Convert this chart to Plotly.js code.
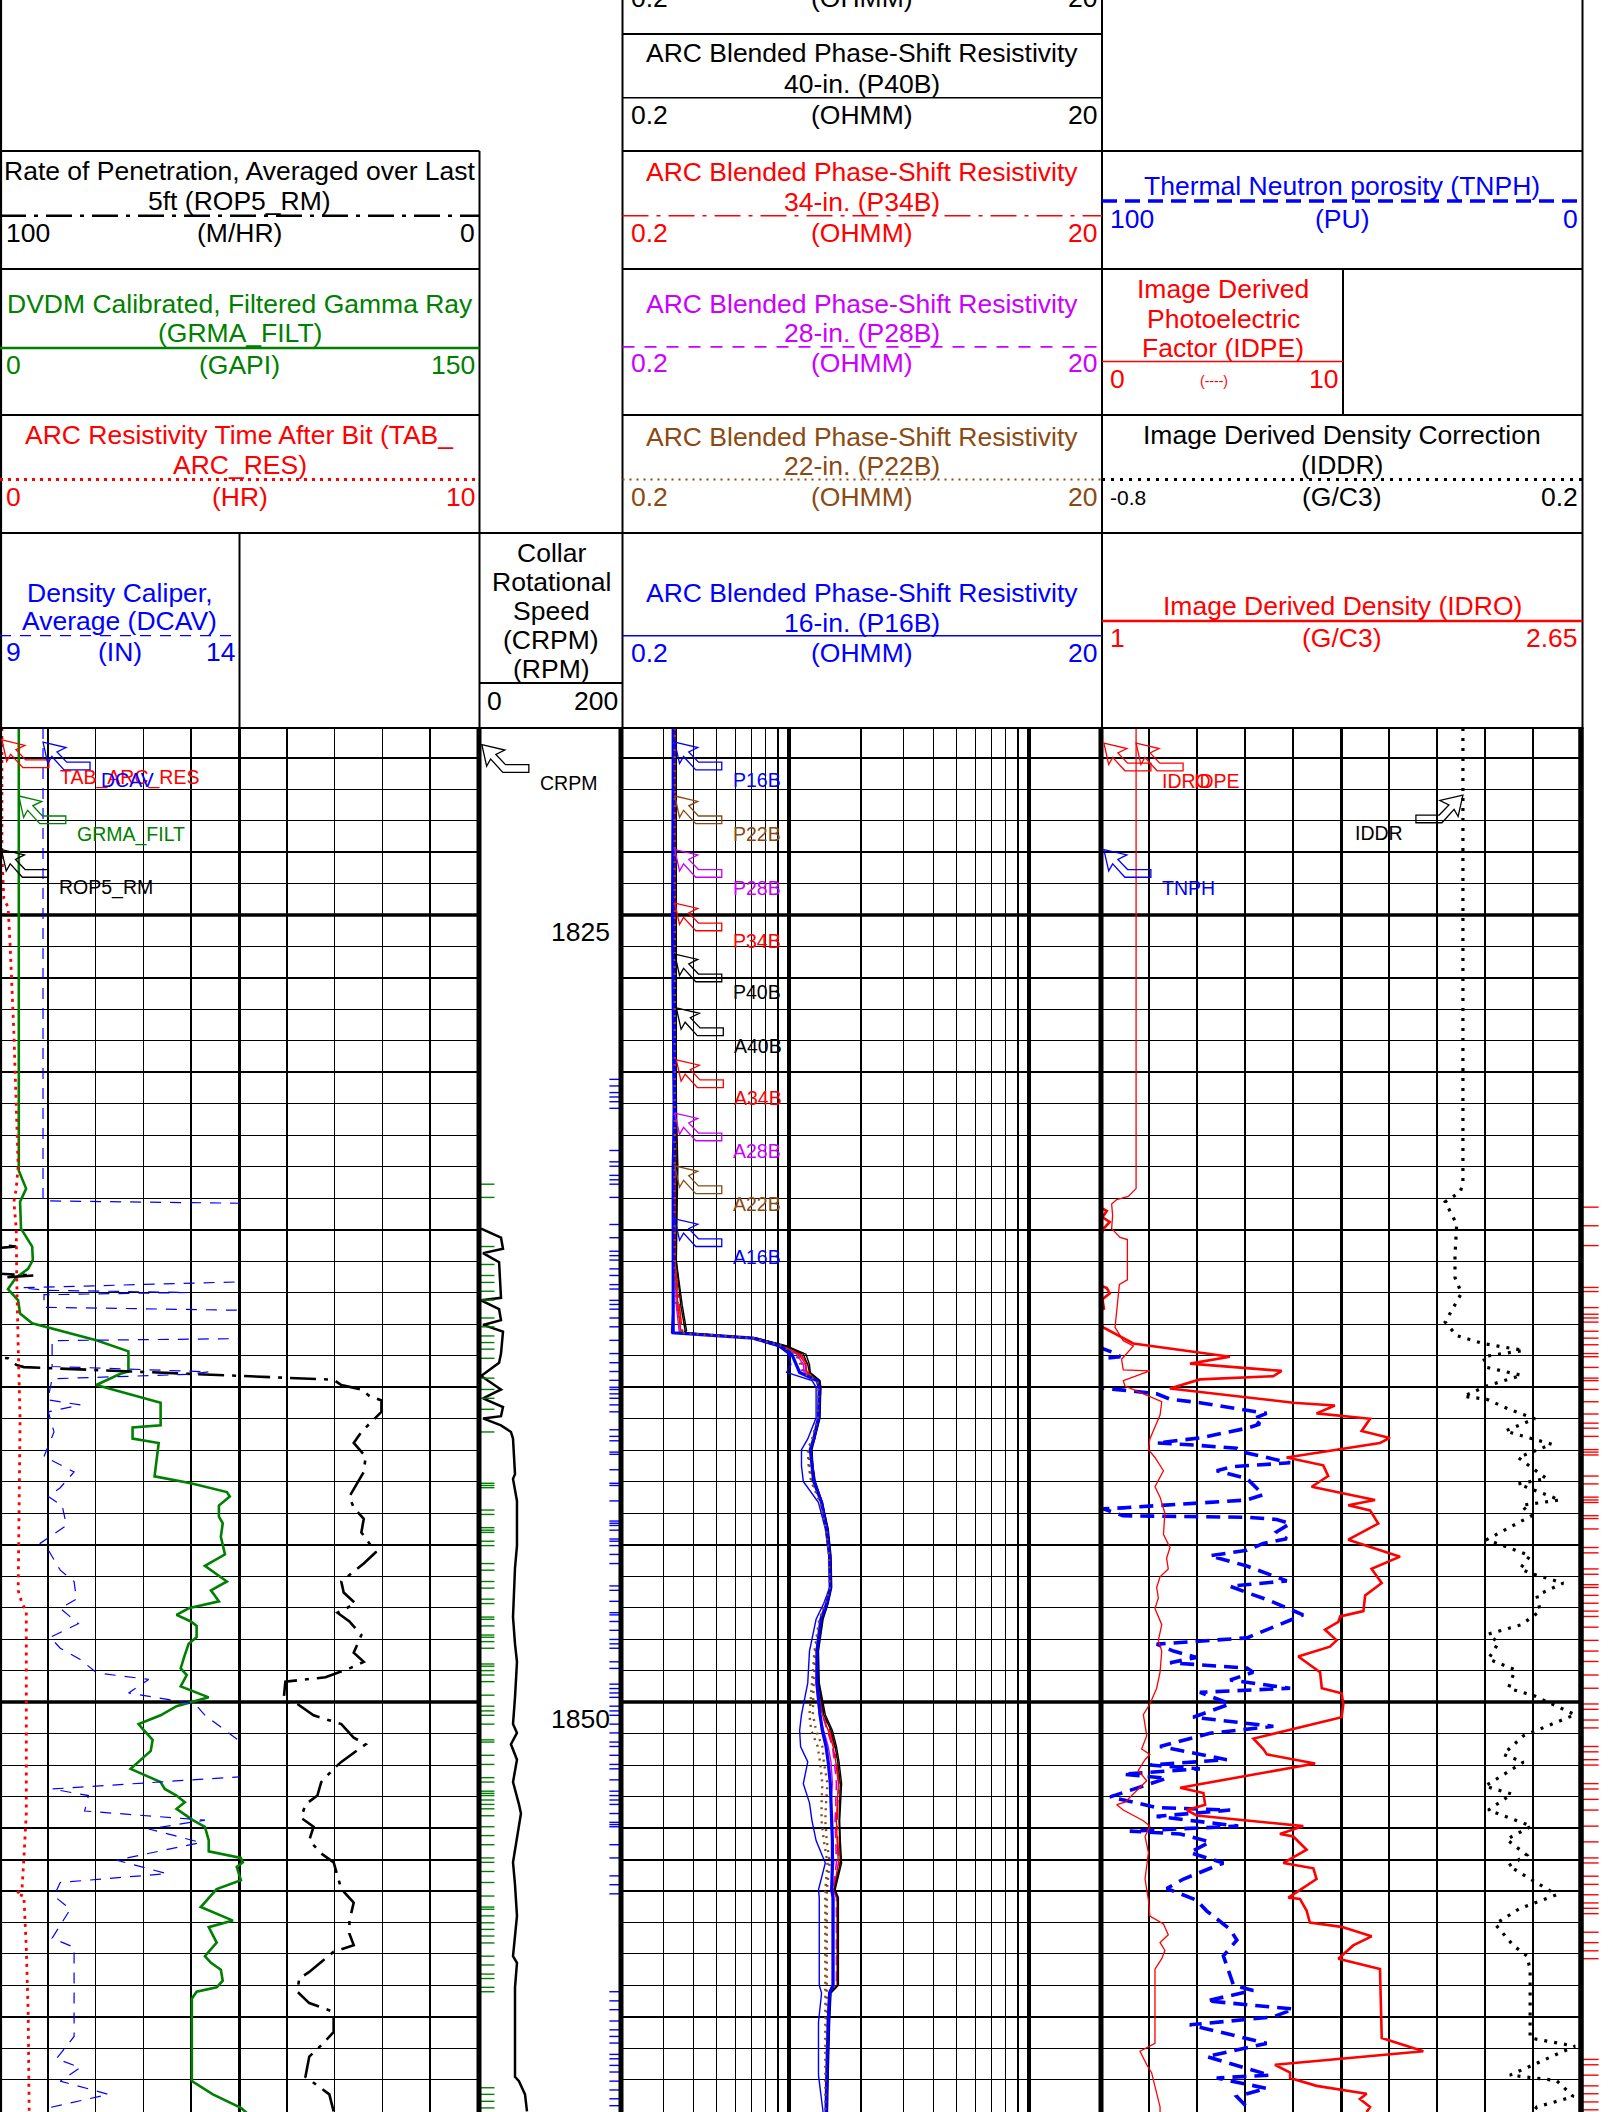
<!DOCTYPE html>
<html>
<head>
<meta charset="utf-8">
<script src="https://cdn.plot.ly/plotly-3.0.1.min.js"></script>
<style>
  html, body { margin:0; padding:0; background:#ffffff; }
  #log { width:1608px; height:2112px; }
</style>
</head>
<body>
<div id="log"></div>
<script>
// Track 1 : Gamma ray (GAPI, 0-150)
const grmaDepth = [1819.06, 1833.12, 1833.69, 1834.11, 1834.96, 1835.53, 1835.96, 1836.24, 1836.52, 1836.88, 1837.24, 1837.66, 1837.97, 1838.51, 1838.86, 1839.5, 1839.57, 1839.93, 1840.49, 1841.21, 1841.28, 1841.63, 1841.77, 1842.83, 1843.05, 1843.33, 1843.47, 1843.76, 1844.11, 1844.32, 1844.75, 1845.31, 1845.67, 1846.17, 1846.45, 1846.8, 1847.02, 1847.23, 1847.44, 1847.58, 1847.94, 1848.15, 1848.5, 1848.93, 1849.14, 1849.5, 1849.85, 1850.13, 1850.42, 1850.7, 1850.84, 1851.2, 1851.55, 1851.83, 1852.12, 1852.54, 1852.76, 1852.97, 1853.18, 1853.39, 1853.75, 1853.96, 1854.39, 1854.74, 1854.95, 1855.09, 1855.24, 1855.66, 1855.94, 1856.51, 1856.94, 1857.15, 1857.64, 1858.07, 1858.28, 1858.5, 1858.85, 1859.06, 1859.2, 1859.42, 1862.04, 1862.46, 1862.89, 1863.1];
const grmaVal = [5.9, 5.9, 8.2, 6.3, 6.6, 10.1, 10.3, 8.8, 5.0, 2.5, 5.7, 6.3, 10.1, 30.2, 40.3, 40.3, 37.8, 30.2, 50.4, 50.4, 41.6, 41.6, 49.8, 48.5, 59.9, 71.2, 72.1, 68.7, 68.7, 69.9, 69.3, 70.6, 64.3, 71.2, 66.2, 68.7, 59.2, 55.4, 59.9, 61.7, 61.7, 59.2, 58.0, 56.7, 58.6, 56.7, 65.5, 55.4, 50.4, 43.5, 44.7, 47.9, 47.3, 44.1, 41.0, 50.4, 51.7, 55.4, 58.0, 55.4, 60.5, 64.3, 65.5, 65.5, 75.6, 76.2, 74.3, 75.6, 68.0, 63.0, 73.1, 65.5, 68.0, 64.3, 66.2, 69.3, 69.9, 68.0, 61.7, 60.2, 60.2, 66.8, 75.6, 78.0];

// Track 1 : Time after bit (HR, 0-10)
const tabDepth = [1819.06, 1823.06, 1824.48, 1824.76, 1825.9, 1828.73, 1831.56, 1832.98, 1833.69, 1834.11, 1834.96, 1836.52, 1838.65, 1841.03, 1846.45, 1846.87, 1847.09, 1853.54, 1854.95, 1855.94, 1856.09, 1856.16, 1857.79, 1859.91, 1863.0];
const tabVal = [0.04, 0.04, 0.08, 0.17, 0.21, 0.29, 0.35, 0.38, 0.34, 0.29, 0.34, 0.35, 0.38, 0.42, 0.38, 0.46, 0.55, 0.55, 0.5, 0.46, 0.34, 0.5, 0.55, 0.59, 0.61];

// Track 1 : Rate of penetration (M/HR, 100-0)
const ropDepth = [1819.06, 1835.4, 1835.53, 1835.65, 1836.35, 1836.45, 1836.58, 1839.0, 1839.08, 1839.29, 1839.36, 1839.76, 1839.93, 1840.07, 1840.28, 1840.42, 1840.78, 1841.42, 1841.77, 1842.2, 1842.69, 1843.47, 1843.83, 1844.18, 1844.61, 1845.24, 1845.6, 1846.17, 1846.52, 1846.87, 1847.16, 1847.44, 1847.87, 1848.43, 1848.72, 1848.93, 1849.21, 1849.35, 1849.99, 1850.06, 1850.42, 1850.7, 1851.13, 1851.34, 1851.9, 1852.12, 1852.54, 1852.97, 1853.25, 1853.68, 1853.96, 1854.39, 1854.81, 1855.09, 1855.52, 1855.94, 1856.37, 1856.94, 1857.36, 1857.72, 1857.93, 1858.57, 1858.78, 1859.2, 1859.56, 1859.84, 1860.48, 1860.9, 1861.26, 1861.9, 1862.46, 1863.0];
const ropVal = [106, 106, 96.6, 106, 106, 92.9, 106, 106, 98.3, 96.6, 95.0, 30.2, 28.6, 24.4, 22.7, 20.2, 20.2, 24.4, 26.0, 23.5, 23.9, 26.9, 26.0, 23.9, 24.4, 21.4, 23.9, 28.6, 28.1, 25.6, 29.4, 26.9, 24.4, 26.0, 23.9, 26.9, 31.9, 40.3, 40.7, 37.8, 34.4, 28.6, 26.0, 23.5, 28.6, 30.2, 32.8, 33.6, 36.1, 37.0, 34.4, 35.3, 32.8, 30.2, 29.4, 28.6, 26.0, 26.9, 26.9, 26.0, 30.2, 35.3, 37.4, 37.8, 35.3, 30.2, 30.2, 32.8, 35.3, 36.1, 31.1, 30.2];

// Track 1 (left half) : Density caliper (IN, 9-14)
const dcavDepth = [1819.06, 1834.08, 1834.16, 1836.64, 1836.84, 1836.92, 1836.99, 1837.06, 1837.46, 1837.56, 1838.45, 1838.52, 1839.34, 1839.51, 1839.59, 1839.73, 1840.4, 1840.56, 1840.78, 1841.42, 1842.2, 1842.69, 1843.19, 1843.47, 1843.76, 1844.39, 1844.96, 1845.17, 1845.81, 1846.17, 1846.73, 1847.02, 1847.51, 1847.94, 1848.29, 1848.65, 1849.07, 1849.28, 1849.71, 1850.06, 1850.42, 1851.27, 1851.55, 1852.33, 1852.76, 1852.97, 1853.46, 1853.75, 1854.03, 1854.46, 1855.02, 1855.45, 1855.73, 1856.16, 1856.58, 1857.5, 1857.79, 1860.62, 1861.33, 1861.61, 1862.04, 1862.46, 1862.89];
const dcavVal = [9.9, 9.9, 14.3, 14.3, 9.45, 9.95, 12.95, 9.92, 9.92, 14.3, 14.3, 10.09, 10.09, 13.37, 12.95, 10.09, 10.0, 10.68, 10.01, 10.13, 9.92, 10.55, 10.26, 10.01, 10.3, 10.39, 9.84, 10.01, 10.26, 10.55, 10.6, 10.26, 10.64, 10.05, 10.26, 10.68, 11.02, 12.11, 11.69, 13.08, 13.29, 14.04, 14.46, 14.46, 10.09, 10.85, 10.77, 13.29, 12.11, 13.2, 11.44, 12.49, 10.26, 10.13, 10.47, 10.09, 10.55, 10.55, 10.18, 10.68, 10.26, 11.27, 10.01];

// Track 2 : Collar rotational speed (RPM, 0-200)
const crpmDepth = [1834.96, 1835.25, 1835.6, 1835.74, 1836.03, 1837.16, 1837.24, 1837.52, 1837.87, 1838.02, 1838.23, 1838.93, 1839.22, 1839.64, 1840.07, 1840.35, 1840.63, 1840.92, 1840.99, 1841.21, 1841.42, 1841.63, 1842.76, 1842.91, 1843.61, 1845.03, 1845.74, 1847.3, 1848.15, 1848.72, 1849.85, 1850.7, 1850.98, 1851.34, 1851.83, 1852.54, 1853.25, 1853.54, 1855.09, 1855.8, 1856.79, 1858.07, 1858.28, 1859.06, 1861.9, 1862.04, 1862.46, 1863.0];
const crpmVal = [2.9, 31.0, 33.8, 5.7, 28.3, 31.0, 2.9, 28.3, 31.0, 5.7, 33.8, 31.0, 28.3, 2.9, 31.0, 5.7, 33.8, 31.0, 5.7, 31.0, 45.0, 47.9, 50.7, 47.9, 53.5, 53.5, 50.7, 47.9, 50.7, 53.5, 50.7, 47.9, 53.5, 45.0, 53.5, 47.9, 56.3, 59.1, 47.9, 50.7, 53.5, 47.9, 53.5, 50.7, 50.7, 56.3, 64.8, 67.6];

// Track 2 flag ticks (depths)
const greenTicks = [1833.55, 1833.97, 1835.53, 1836.1, 1836.45, 1836.67, 1836.95, 1837.23, 1837.8, 1838.08, 1838.37, 1838.58, 1838.79, 1839.08, 1839.71, 1840.07, 1840.35, 1840.7, 1841.42, 1843.05, 1843.12, 1843.19, 1843.9, 1844.04, 1844.46, 1844.54, 1844.61, 1844.89, 1845.03, 1845.6, 1845.81, 1846.17, 1846.38, 1846.73, 1846.87, 1847.3, 1847.37, 1847.58, 1847.87, 1847.94, 1848.08, 1848.29, 1848.79, 1848.86, 1849.0, 1849.14, 1849.35, 1849.78, 1850.13, 1850.28, 1850.42, 1850.7, 1851.2, 1851.27, 1851.69, 1851.98, 1852.4, 1852.54, 1852.83, 1852.9, 1852.97, 1853.11, 1853.25, 1853.39, 1853.61, 1853.96, 1854.24, 1854.53, 1854.95, 1855.09, 1855.38, 1855.73, 1856.16, 1856.51, 1856.58, 1856.79, 1857.01, 1857.22, 1857.43, 1857.65, 1858.07, 1858.35, 1858.64, 1858.78, 1859.06, 1859.2, 1862.25, 1862.46, 1862.68, 1862.89];
const blueTicks = [1830.22, 1830.43, 1830.64, 1830.78, 1830.93, 1831.14, 1832.48, 1832.84, 1832.98, 1833.27, 1833.41, 1833.55, 1833.97, 1834.83, 1835.25, 1835.68, 1835.82, 1835.96, 1836.24, 1836.45, 1836.74, 1836.88, 1837.24, 1837.37, 1837.52, 1837.8, 1838.08, 1838.51, 1838.93, 1839.22, 1839.5, 1839.78, 1840.0, 1840.07, 1840.21, 1840.35, 1840.56, 1840.78, 1841.35, 1841.56, 1841.7, 1842.06, 1842.13, 1842.62, 1843.05, 1843.12, 1843.61, 1844.25, 1844.32, 1844.39, 1844.54, 1844.82, 1844.89, 1845.03, 1845.31, 1845.6, 1846.31, 1846.45, 1846.8, 1847.16, 1847.23, 1847.44, 1847.72, 1848.01, 1848.15, 1848.29, 1848.72, 1848.93, 1849.43, 1849.57, 1849.71, 1849.85, 1850.13, 1850.28, 1850.42, 1850.7, 1850.98, 1851.27, 1851.41, 1851.69, 1851.98, 1852.12, 1852.47, 1852.83, 1852.97, 1853.11, 1853.25, 1853.54, 1853.82, 1853.89, 1853.96, 1854.53, 1854.95, 1855.52, 1855.8, 1856.09, 1859.2, 1859.49, 1859.77, 1860.13, 1860.41, 1860.62, 1860.83, 1861.19, 1861.33, 1861.54, 1861.75, 1862.04, 1862.32, 1862.6, 1862.82];

// Track 3 : ARC blended phase-shift / attenuation resistivities (OHMM, 0.2-20 log)
const resDepth = [1819.06, 1825.0, 1831.0, 1833.0, 1836.0, 1837.4, 1838.2, 1838.27, 1838.44, 1838.69, 1838.95, 1839.28, 1839.53, 1839.79, 1840.0, 1840.97, 1841.64, 1841.98, 1842.5, 1842.99, 1843.66, 1844.5, 1845.35, 1846.36, 1846.86, 1847.37, 1848.38, 1849.39, 1850.4, 1850.9, 1851.41, 1851.9, 1852.59, 1853.2, 1853.77, 1854.4, 1855.11, 1855.96, 1856.21, 1857.6, 1858.99, 1859.24, 1860.17, 1861.85, 1863.02];
const p16b = [0.33, 0.33, 0.335, 0.33, 0.33, 0.33, 0.33, 0.33, 0.71, 0.92, 1.03, 1.08, 1.11, 1.31, 1.34, 1.33, 1.27, 1.23, 1.25, 1.27, 1.37, 1.44, 1.48, 1.49, 1.44, 1.36, 1.31, 1.31, 1.35, 1.38, 1.43, 1.46, 1.49, 1.50, 1.51, 1.52, 1.52, 1.51, 1.53, 1.53, 1.53, 1.48, 1.46, 1.44, 1.43];
const a16b = [0.33, 0.325, 0.33, 0.33, 0.33, 0.33, 0.325, 0.325, 0.70, 0.90, 1.00, 1.02, 0.98, 1.25, 1.30, 1.30, 1.20, 1.13, 1.13, 1.15, 1.33, 1.42, 1.47, 1.48, 1.40, 1.30, 1.22, 1.20, 1.13, 1.11, 1.12, 1.20, 1.15, 1.22, 1.25, 1.30, 1.42, 1.33, 1.34, 1.34, 1.34, 1.37, 1.33, 1.33, 1.39];
const p40b = [0.34, 0.34, 0.34, 0.345, 0.34, 0.36, 0.375, 0.37, 0.74, 0.98, 1.18, 1.22, 1.23, 1.35, 1.36, 1.35, 1.28, 1.25, 1.26, 1.29, 1.38, 1.46, 1.50, 1.51, 1.46, 1.39, 1.33, 1.34, 1.42, 1.52, 1.58, 1.62, 1.66, 1.65, 1.63, 1.64, 1.66, 1.56, 1.61, 1.61, 1.61, 1.50, 1.48, 1.46, 1.45];
const a40b = [0.34, 0.34, 0.335, 0.34, 0.34, 0.355, 0.37, 0.365, 0.73, 0.97, 1.15, 1.20, 1.22, 1.34, 1.35, 1.34, 1.27, 1.24, 1.25, 1.28, 1.37, 1.45, 1.49, 1.50, 1.45, 1.38, 1.32, 1.33, 1.40, 1.50, 1.56, 1.60, 1.64, 1.63, 1.62, 1.63, 1.64, 1.55, 1.60, 1.60, 1.60, 1.49, 1.47, 1.45, 1.44];
const p34b = [0.335, 0.335, 0.34, 0.34, 0.335, 0.35, 0.36, 0.36, 0.73, 0.96, 1.12, 1.20, 1.20, 1.34, 1.36, 1.34, 1.28, 1.24, 1.26, 1.28, 1.38, 1.45, 1.49, 1.50, 1.45, 1.38, 1.32, 1.33, 1.40, 1.48, 1.55, 1.58, 1.62, 1.60, 1.59, 1.60, 1.62, 1.55, 1.60, 1.60, 1.60, 1.49, 1.47, 1.45, 1.44];
const a34b = [0.335, 0.335, 0.335, 0.34, 0.335, 0.345, 0.355, 0.355, 0.72, 0.95, 1.10, 1.18, 1.19, 1.33, 1.35, 1.34, 1.27, 1.23, 1.25, 1.27, 1.37, 1.45, 1.49, 1.50, 1.44, 1.37, 1.31, 1.32, 1.38, 1.46, 1.53, 1.57, 1.61, 1.59, 1.58, 1.59, 1.61, 1.54, 1.59, 1.59, 1.59, 1.48, 1.46, 1.44, 1.43];
const p28b = [0.335, 0.335, 0.335, 0.335, 0.335, 0.345, 0.355, 0.355, 0.72, 0.95, 1.10, 1.17, 1.18, 1.33, 1.35, 1.34, 1.28, 1.24, 1.26, 1.28, 1.38, 1.45, 1.49, 1.50, 1.45, 1.38, 1.32, 1.32, 1.38, 1.45, 1.52, 1.55, 1.58, 1.57, 1.56, 1.57, 1.58, 1.53, 1.58, 1.58, 1.58, 1.48, 1.46, 1.44, 1.43];
const a28b = [0.335, 0.335, 0.335, 0.335, 0.335, 0.34, 0.35, 0.35, 0.71, 0.94, 1.08, 1.15, 1.16, 1.32, 1.34, 1.33, 1.27, 1.23, 1.25, 1.27, 1.37, 1.44, 1.48, 1.49, 1.44, 1.37, 1.31, 1.30, 1.34, 1.40, 1.46, 1.50, 1.52, 1.50, 1.50, 1.52, 1.54, 1.50, 1.52, 1.52, 1.52, 1.47, 1.45, 1.44, 1.43];
const p22b = [0.335, 0.335, 0.335, 0.335, 0.335, 0.345, 0.36, 0.355, 0.72, 0.95, 1.08, 1.14, 1.16, 1.32, 1.34, 1.33, 1.26, 1.21, 1.22, 1.25, 1.36, 1.44, 1.48, 1.49, 1.43, 1.35, 1.29, 1.27, 1.26, 1.30, 1.38, 1.40, 1.45, 1.43, 1.42, 1.44, 1.48, 1.44, 1.44, 1.44, 1.44, 1.44, 1.44, 1.44, 1.44];
const a22b = [0.335, 0.335, 0.335, 0.335, 0.335, 0.34, 0.355, 0.35, 0.71, 0.94, 1.07, 1.12, 1.14, 1.31, 1.33, 1.32, 1.25, 1.20, 1.21, 1.24, 1.35, 1.43, 1.47, 1.48, 1.42, 1.34, 1.28, 1.25, 1.22, 1.24, 1.32, 1.35, 1.38, 1.37, 1.37, 1.40, 1.45, 1.42, 1.42, 1.42, 1.42, 1.42, 1.41, 1.41, 1.42];

// Track 4 : Image derived density (G/C3, 1-2.65)
const idroDepth = [1819.06, 1834.2, 1834.4, 1834.6, 1834.75, 1834.95, 1835.17, 1835.3, 1836.7, 1836.85, 1837.02, 1837.2, 1837.5, 1837.6, 1838.0, 1838.1, 1838.61, 1839.03, 1839.25, 1839.48, 1839.65, 1839.75, 1840.04, 1840.49, 1840.58, 1840.83, 1841.0, 1841.39, 1841.61, 1841.77, 1842.23, 1842.48, 1842.82, 1843.16, 1843.58, 1843.75, 1843.91, 1844.33, 1844.84, 1845.38, 1845.77, 1846.22, 1846.61, 1847.11, 1847.28, 1847.45, 1847.7, 1848.04, 1848.24, 1848.55, 1849.05, 1849.56, 1849.72, 1850.06, 1850.48, 1851.16, 1851.49, 1851.66, 1851.95, 1852.72, 1852.89, 1853.26, 1853.43, 1853.6, 1853.94, 1854.19, 1854.27, 1854.69, 1855.11, 1855.28, 1855.62, 1856.21, 1856.25, 1856.63, 1857.0, 1857.14, 1857.44, 1857.73, 1858.15, 1858.48, 1860.67, 1861.09, 1861.52, 1861.77, 1861.94, 1862.19, 1862.44, 1862.61, 1862.86, 1863.02];
const idroVal = [0.98, 0.98, 1.02, 1.005, 1.03, 1.01, 1.0, 0.98, 0.98, 1.02, 1.03, 1.005, 1.01, 0.98, 1.0, 1.008, 1.111, 1.443, 1.306, 1.621, 1.592, 1.340, 1.237, 1.661, 1.804, 1.741, 1.925, 1.896, 1.993, 1.959, 1.638, 1.764, 1.781, 1.724, 1.942, 1.850, 1.925, 1.953, 1.850, 2.028, 1.930, 1.965, 1.908, 1.902, 1.822, 1.816, 1.770, 1.810, 1.787, 1.678, 1.753, 1.759, 1.827, 1.833, 1.827, 1.524, 1.558, 1.570, 1.736, 1.272, 1.352, 1.358, 1.295, 1.329, 1.695, 1.615, 1.661, 1.707, 1.627, 1.730, 1.741, 1.644, 1.684, 1.707, 1.718, 1.827, 1.930, 1.867, 1.816, 1.959, 1.965, 2.108, 1.598, 1.650, 1.650, 1.741, 1.913, 1.890, 1.925, 1.913];

// Track 4 (left half) : Photoelectric factor (0-10)
const idpeDepth = [1819.06, 1833.69, 1833.94, 1834.04, 1834.18, 1834.54, 1834.96, 1835.24, 1835.31, 1836.59, 1836.73, 1838.1, 1838.52, 1838.69, 1839.11, 1839.45, 1839.48, 1839.79, 1839.96, 1840.46, 1840.88, 1841.64, 1841.98, 1842.23, 1842.65, 1843.16, 1843.49, 1844.0, 1844.67, 1845.09, 1845.43, 1845.77, 1846.02, 1846.36, 1846.69, 1847.03, 1847.54, 1848.04, 1848.38, 1849.05, 1849.56, 1850.06, 1850.4, 1851.07, 1851.49, 1851.66, 1851.83, 1852.17, 1852.5, 1853.18, 1853.26, 1853.43, 1853.77, 1853.94, 1854.27, 1854.78, 1855.62, 1856.29, 1856.8, 1857.05, 1857.39, 1857.64, 1857.89, 1858.15, 1858.48, 1860.84, 1861.09, 1861.52, 1861.77, 1862.19, 1862.86, 1863.02];
const idpeVal = [1.45, 1.45, 1.13, 0.65, 0.44, 0.48, 0.44, 0.79, 1.09, 1.09, 0.76, 0.58, 0.92, 1.34, 0.85, 0.92, 2.02, 0.92, 0.99, 2.51, 2.44, 2.02, 1.96, 2.23, 2.58, 2.23, 2.44, 2.64, 2.58, 2.85, 2.71, 2.78, 2.44, 2.30, 2.37, 2.23, 2.51, 2.37, 2.51, 2.44, 2.30, 2.02, 1.75, 1.89, 1.68, 2.02, 1.82, 1.54, 1.89, 0.99, 0.65, 0.92, 1.75, 2.02, 1.82, 1.96, 1.82, 1.96, 2.02, 2.58, 2.78, 2.44, 2.64, 2.51, 2.23, 2.23, 1.61, 1.89, 2.09, 2.23, 2.44, 2.44];

// Track 4 : Thermal neutron porosity (PU, 100-0)
const tnphDepth = [1838.7, 1838.78, 1838.94, 1839.03, 1839.1, 1840.0, 1840.04, 1840.09, 1840.21, 1840.38, 1840.49, 1840.71, 1840.83, 1841.0, 1841.17, 1841.3, 1841.61, 1841.77, 1841.84, 1841.94, 1842.06, 1842.4, 1842.52, 1842.65, 1842.9, 1843.41, 1843.58, 1843.83, 1843.86, 1844.08, 1844.13, 1844.2, 1844.33, 1844.59, 1844.81, 1844.96, 1845.18, 1845.35, 1845.68, 1846.15, 1846.32, 1846.52, 1846.78, 1847.23, 1847.7, 1847.96, 1848.16, 1848.38, 1848.58, 1848.75, 1848.92, 1849.05, 1849.3, 1849.56, 1849.69, 1850.06, 1850.48, 1850.77, 1850.99, 1851.41, 1851.83, 1852.0, 1852.12, 1852.29, 1852.42, 1853.01, 1853.35, 1853.43, 1853.63, 1853.94, 1854.1, 1854.19, 1854.44, 1854.78, 1855.11, 1855.62, 1855.92, 1856.29, 1856.63, 1857.22, 1857.56, 1858.06, 1858.99, 1859.16, 1859.49, 1859.75, 1860.0, 1860.25, 1860.84, 1861.26, 1861.85, 1861.94, 1862.27, 1862.53, 1862.86, 1863.02];
const tnphVal = [100.5, 99.5, 96.7, 96.0, 100.5, 100.5, 99.5, 95.4, 88.4, 85.6, 79.4, 69.6, 65.5, 68.3, 66.9, 69.6, 79.4, 88.4, 80.1, 71.7, 70.4, 60.6, 72.4, 75.9, 69.6, 66.2, 69.6, 95.4, 99.5, 95.4, 69.6, 63.4, 60.6, 63.4, 61.3, 66.2, 69.6, 77.3, 69.6, 61.3, 73.1, 69.6, 64.8, 57.9, 65.5, 69.6, 88.4, 84.9, 80.1, 85.6, 69.6, 68.3, 73.1, 60.6, 79.4, 73.1, 80.8, 64.1, 77.3, 87.7, 73.8, 89.8, 79.4, 95.4, 86.3, 98.1, 88.4, 73.1, 88.4, 71.4, 94.0, 83.5, 77.3, 81.5, 74.5, 82.8, 86.3, 80.1, 78.0, 73.1, 71.7, 74.5, 72.4, 68.3, 78.0, 59.9, 64.1, 81.5, 65.5, 78.0, 64.8, 75.9, 65.5, 71.7, 69.6, 70.0];

// Track 4 : Image derived density correction (G/C3, -0.8-0.2)
const iddrDepth = [1819.06, 1833.55, 1833.8, 1834.11, 1834.82, 1835.82, 1836.52, 1837.01, 1837.93, 1838.36, 1838.61, 1838.83, 1839.03, 1839.37, 1839.62, 1839.96, 1840.29, 1840.38, 1840.71, 1841.0, 1841.39, 1841.81, 1842.23, 1842.9, 1843.07, 1843.58, 1843.75, 1844.08, 1844.84, 1845.35, 1845.77, 1845.94, 1846.22, 1846.61, 1847.11, 1847.54, 1847.84, 1848.12, 1848.63, 1848.97, 1849.56, 1849.81, 1850.4, 1850.82, 1851.07, 1851.66, 1851.91, 1852.67, 1852.92, 1853.43, 1853.94, 1854.36, 1854.86, 1855.2, 1856.12, 1856.55, 1857.05, 1857.73, 1858.06, 1858.48, 1860.67, 1860.93, 1861.85, 1862.02, 1862.53, 1862.86, 1863.02];
const iddrVal = [-0.046, -0.046, -0.052, -0.083, -0.059, -0.0625, -0.0625, -0.049, -0.083, -0.059, -0.004, 0.080, -0.004, 0.0035, 0.076, 0.0035, -0.045, 0.0035, 0.052, 0.104, 0.042, 0.139, 0.069, 0.128, 0.069, 0.156, 0.076, 0.097, 0.0035, 0.094, 0.073, 0.101, 0.163, 0.108, 0.115, 0.076, 0.007, 0.028, 0.007, 0.0625, 0.049, 0.104, 0.1875, 0.121, 0.080, 0.038, 0.080, 0.0, 0.056, 0.007, 0.097, 0.045, 0.087, 0.049, 0.149, 0.073, 0.021, 0.059, 0.087, 0.094, 0.094, 0.1875, 0.052, 0.149, 0.184, 0.108, 0.1];

// Right edge flag ticks (depths)
const redTicks = [1834.28, 1834.87, 1835.5, 1836.83, 1836.96, 1837.47, 1837.68, 1837.8, 1837.93, 1838.22, 1838.44, 1838.65, 1838.93, 1839.03, 1839.37, 1839.71, 1839.79, 1840.07, 1840.46, 1840.85, 1841.14, 1841.3, 1841.56, 1841.98, 1842.06, 1842.15, 1842.82, 1843.07, 1843.49, 1843.58, 1843.66, 1844.08, 1844.17, 1844.5, 1845.09, 1845.26, 1845.77, 1845.94, 1846.27, 1846.36, 1846.61, 1846.86, 1847.11, 1847.28, 1847.62, 1848.04, 1848.38, 1848.71, 1849.14, 1849.56, 1850.06, 1850.23, 1850.57, 1850.82, 1851.41, 1851.58, 1851.83, 1852.0, 1852.59, 1852.76, 1853.09, 1853.43, 1853.94, 1854.44, 1854.95, 1855.11, 1855.53, 1855.79, 1856.12, 1856.38, 1856.55, 1856.72, 1857.31, 1857.64, 1857.9, 1858.15, 1861.35, 1861.52, 1861.85, 1862.19, 1862.44, 1862.7, 1862.95];

// Depth labels and grid levels
const depthLabels = [1825, 1850];
const depth25 = [1825, 1850];
const resGrid = [0.2, 0.3, 0.4, 0.5, 0.6, 0.7, 0.8, 0.9, 1, 2, 3, 4, 5, 6, 7, 8, 9, 10, 20];

// ===================== FIGURE =====================
const W = 1608, H = 2112;
const X = p => p / W;
const Y = p => 1 - p / H;
const FONT = 'Liberation Sans, Arial, Helvetica, sans-serif';
const COL = {black:'#000000', red:'#FF0000', green:'#008000', blue:'#0000FF', magenta:'#CC00FF', brown:'#8B4A12'};
const DEPTH_RANGE = [1863.02, 1819.06];
const DATA_DOMAIN = [0, Y(728)];
const TSIZE = 26.5;

function curve(x, y, xa, ya, color, width, dash) {
  return {type:'scatter', mode:'lines', x:x, y:y, xaxis:xa, yaxis:ya,
          line:{color:color, width:width, dash:dash || 'solid'},
          hoverinfo:'skip', showlegend:false};
}
function ticks(depths, xval, xa, color, size) {
  return {type:'scatter', mode:'markers', x:depths.map(() => xval), y:depths, xaxis:xa, yaxis:'y2',
          marker:{symbol:'line-ew', size:size, color:color, line:{color:color, width:1.4}},
          hoverinfo:'skip', showlegend:false};
}

const traces = [
  curve(grmaVal, grmaDepth, 'x', 'y', COL.green, 2.6),
  curve(ropVal, ropDepth, 'x2', 'y', COL.black, 2.6, '26px,8px,4px,8px'),
  curve(tabVal, tabDepth, 'x3', 'y', COL.red, 2.8, '3px,5px'),
  curve(dcavVal, dcavDepth, 'x4', 'y2', COL.blue, 1.2, '11px,9px'),
  curve(crpmVal, crpmDepth, 'x5', 'y2', COL.black, 2.5),
  ticks(greenTicks, 9.9, 'x5', COL.green, 12),
  ticks(blueTicks, 193.5, 'x5', COL.blue, 10),
  curve(a22b, resDepth, 'x7', 'y', COL.brown, 2.4, '2px,5px'),
  curve(p22b, resDepth, 'x6', 'y', COL.brown, 2.4, '2px,5px'),
  curve(a28b, resDepth, 'x6', 'y', COL.magenta, 1.4),
  curve(p28b, resDepth, 'x6', 'y', COL.magenta, 1.6, '10px,6px'),
  curve(a34b, resDepth, 'x6', 'y', COL.red, 1.4),
  curve(p34b, resDepth, 'x6', 'y', COL.red, 1.6, '20px,6px,4px,6px'),
  curve(a40b, resDepth, 'x6', 'y', COL.black, 1.4),
  curve(p40b, resDepth, 'x6', 'y', COL.black, 1.4),
  curve(a16b, resDepth, 'x6', 'y', COL.blue, 1.4),
  curve(p16b, resDepth, 'x6', 'y', COL.blue, 3.2),
  curve(tnphVal, tnphDepth, 'x8', 'y', COL.blue, 3.6, '14px,8px'),
  curve(iddrVal, iddrDepth, 'x9', 'y', COL.black, 3.2, '3px,7px'),
  curve(idroVal, idroDepth, 'x10', 'y', COL.red, 2.6),
  curve(idpeVal, idpeDepth, 'x11', 'y2', COL.red, 1.3),
  ticks(redTicks, 0.315, 'x12', COL.red, 13)
];

const base = {showticklabels:false, ticks:'', zeroline:false, showline:false, showgrid:false, fixedrange:true, autorange:false};
const GRID = '#000000';

const layout = {
  width: W, height: H,
  margin: {l:0, r:0, t:0, b:0, pad:0},
  paper_bgcolor: '#ffffff', plot_bgcolor: 'rgba(0,0,0,0)',
  showlegend: false,
  font: {family: FONT, size: 26, color: '#000000'},
  yaxis: Object.assign({}, base, {domain: DATA_DOMAIN, range: DEPTH_RANGE, anchor:'x',
          showgrid:true, tick0:1820, dtick:5, gridcolor:GRID, gridwidth:2,
          minor:{tick0:1820, dtick:1, showgrid:true, gridcolor:GRID, gridwidth:1.1}}),
  yaxis2: Object.assign({}, base, {domain: DATA_DOMAIN, range: DEPTH_RANGE, anchor:'x5'}),
  xaxis: Object.assign({}, base, {domain:[0, X(478)], range:[0,150], anchor:'y',
          showgrid:true, tick0:0, dtick:75, gridcolor:GRID, gridwidth:3,
          minor:{tick0:0, dtick:15, showgrid:true, gridcolor:GRID, gridwidth:1.5}}),
  xaxis2: Object.assign({}, base, {overlaying:'x', range:[100,0], anchor:'y'}),
  xaxis3: Object.assign({}, base, {overlaying:'x', range:[0,10], anchor:'y'}),
  xaxis4: Object.assign({}, base, {domain:[0, X(239)], range:[9,14], anchor:'y2'}),
  xaxis5: Object.assign({}, base, {domain:[X(479), X(621)], range:[0,200], anchor:'y2'}),
  xaxis6: Object.assign({}, base, {type:'log', domain:[X(621), X(1101)], range:[Math.log10(0.2), Math.log10(20)], anchor:'y',
          showgrid:true, tickmode:'array', tickvals:resGrid, gridcolor:GRID, gridwidth:1.5}),
  xaxis7: Object.assign({}, base, {type:'log', overlaying:'x6', range:[Math.log10(0.2), Math.log10(20)], anchor:'y',
          showgrid:true, tickmode:'array', tickvals:[1, 10], gridcolor:GRID, gridwidth:3.5}),
  xaxis8: Object.assign({}, base, {domain:[X(1101), X(1581)], range:[100,0], anchor:'y',
          showgrid:true, tick0:0, dtick:50, gridcolor:GRID, gridwidth:3,
          minor:{tick0:0, dtick:10, showgrid:true, gridcolor:GRID, gridwidth:1.5}}),
  xaxis9: Object.assign({}, base, {overlaying:'x8', range:[-0.8,0.2], anchor:'y'}),
  xaxis10: Object.assign({}, base, {overlaying:'x8', range:[1,2.65], anchor:'y'}),
  xaxis11: Object.assign({}, base, {domain:[X(1101), X(1343)], range:[0,10], anchor:'y2'}),
  xaxis12: Object.assign({}, base, {domain:[X(1581), 1], range:[0,1], anchor:'y2'})
};

// ---------- shapes: frame, header boxes, header line styles ----------
const shapes = [];
function pline(x0, y0, x1, y1, color, width, dash, layer) {
  shapes.push({type:'line', xref:'paper', yref:'paper', x0:X(x0), y0:Y(y0), x1:X(x1), y1:Y(y1),
               line:{color:color, width:width, dash:dash || 'solid'}, layer:layer || 'above'});
}
// vertical borders [x, yTop, yBottom, width]
[[1, 0, 2112, 2.2], [479.5, 151, 728, 2], [239.5, 533, 728, 2], [622.5, 0, 728, 2], [1102, 0, 728, 2],
 [1582.5, 0, 728, 2], [1343, 269, 415, 2], [479, 728, 2112, 5], [621, 728, 2112, 5], [1101, 728, 2112, 5],
 [1581, 728, 2112, 5.5]].forEach(v => pline(v[0], v[1], v[0], v[2], COL.black, v[3]));
// horizontal header borders [y, x0, x1]
[[34, 622.5, 1102], [151, 0, 479.5], [151, 622.5, 1582.5], [269, 0, 479.5], [269, 622.5, 1582.5], [415, 0, 479.5],
 [415, 622.5, 1582.5], [533, 0, 1582.5], [728, 0, 1583.5]].forEach(h => pline(h[1], h[0], h[2], h[0], COL.black, 2.2));
// header curve-style lines [y, x0, x1, color, width, dash]
[[215.7, 0, 479.5, COL.black, 2.6, '26px,8px,4px,8px'],
 [348, 0, 479.5, COL.green, 2.6, 'solid'],
 [479.5, 0, 479.5, COL.red, 2.8, '3px,5px'],
 [635.7, 0, 239.5, COL.blue, 1.3, '11px,9px'],
 [683, 479.5, 622.5, COL.black, 2.2, 'solid'],
 [97.7, 622.5, 1102, COL.black, 1.4, 'solid'],
 [215.7, 622.5, 1102, COL.red, 1.6, '26px,8px,4px,8px'],
 [346.9, 622.5, 1102, COL.magenta, 1.6, '12px,10px'],
 [479.5, 622.5, 1102, COL.brown, 1.8, '2px,5px'],
 [635.7, 622.5, 1102, COL.blue, 1.6, 'solid'],
 [201, 1102, 1582.5, COL.blue, 3.6, '15px,8px'],
 [361.5, 1102, 1343, COL.red, 1.6, 'solid'],
 [479.5, 1102, 1582.5, COL.black, 2.8, '3px,6px'],
 [621, 1102, 1582.5, COL.red, 2.6, 'solid']].forEach(l => pline(l[1], l[0], l[2], l[0], l[3], l[4], l[5]));
// 25 ft depth lines
depth25.forEach(d => {
  [[0, 478], [621, 1101], [1101, 1581]].forEach(s => shapes.push({type:'line', xref:'paper', yref:'y',
      x0:X(s[0]), x1:X(s[1]), y0:d, y1:d, line:{color:GRID, width:3.5}, layer:'between'}));
});

// ---------- annotations: header text ----------
const annotations = [];
function ptext(text, x, y, color, size, anchor) {
  annotations.push({xref:'paper', yref:'paper', x:X(x), y:Y(y), xanchor:anchor || 'center', yanchor:'middle',
                    text:text, showarrow:false, font:{family:FONT, size:size || TSIZE, color:color}});
}
[['Rate of Penetration, Averaged over Last', 239.5, 171, COL.black],
 ['5ft (ROP5_RM)', 239.5, 200.6, COL.black],
 ['DVDM Calibrated, Filtered Gamma Ray', 239.5, 304.4, COL.green],
 ['(GRMA_FILT)', 239.5, 332.7, COL.green],
 ['ARC Resistivity Time After Bit (TAB_', 239.5, 435, COL.red],
 ['ARC_RES)', 239.5, 464.8, COL.red],
 ['Density Caliper,', 119.75, 593, COL.blue],
 ['Average (DCAV)', 119.75, 621.5, COL.blue],
 ['Collar', 551, 553, COL.black], ['Rotational', 551, 582, COL.black], ['Speed', 551, 611, COL.black],
 ['(CRPM)', 551, 640.4, COL.black], ['(RPM)', 551, 669, COL.black],
 ['ARC Blended Phase-Shift Resistivity', 862, 53.3, COL.black], ['40-in. (P40B)', 862, 84, COL.black],
 ['ARC Blended Phase-Shift Resistivity', 862, 172, COL.red], ['34-in. (P34B)', 862, 202, COL.red],
 ['ARC Blended Phase-Shift Resistivity', 862, 304.4, COL.magenta], ['28-in. (P28B)', 862, 332.7, COL.magenta],
 ['ARC Blended Phase-Shift Resistivity', 862, 436.5, COL.brown], ['22-in. (P22B)', 862, 465.8, COL.brown],
 ['ARC Blended Phase-Shift Resistivity', 862, 593, COL.blue], ['16-in. (P16B)', 862, 623, COL.blue],
 ['Thermal Neutron porosity (TNPH)', 1342, 186.4, COL.blue],
 ['Image Derived', 1223, 289.3, COL.red], ['Photoelectric', 1223, 318.5, COL.red], ['Factor (IDPE)', 1223, 347.8, COL.red],
 ['Image Derived Density Correction', 1342, 435, COL.black], ['(IDDR)', 1342, 464.8, COL.black],
 ['Image Derived Density (IDRO)', 1342, 606.4, COL.red]
].forEach(t => ptext(t[0], t[1], t[2], t[3]));
// scale rows [x0, x1, y, left, unit, right, color, unitX, unitSize, leftSize]
[[0, 479.5, 232.7, '100', '(M/HR)', '0', COL.black],
 [0, 479.5, 364.8, '0', '(GAPI)', '150', COL.green],
 [0, 479.5, 497, '0', '(HR)', '10', COL.red],
 [0, 239.5, 652, '9', '(IN)', '14', COL.blue],
 [479.5, 622.5, 700.8, '0', '', '200', COL.black],
 [622.5, 1102, -2, '0.2', '(OHMM)', '20', COL.black],
 [622.5, 1102, 114.7, '0.2', '(OHMM)', '20', COL.black],
 [622.5, 1102, 232.7, '0.2', '(OHMM)', '20', COL.red],
 [622.5, 1102, 363.4, '0.2', '(OHMM)', '20', COL.magenta],
 [622.5, 1102, 496.5, '0.2', '(OHMM)', '20', COL.brown],
 [622.5, 1102, 652.7, '0.2', '(OHMM)', '20', COL.blue],
 [1102, 1582.5, 218.5, '100', '(PU)', '0', COL.blue],
 [1102, 1343, 379, '0', '(----)', '10', COL.red, 1214, 14],
 [1102, 1582.5, 497, '-0.8', '(G/C3)', '0.2', COL.black, null, null, 21],
 [1102, 1582.5, 638.5, '1', '(G/C3)', '2.65', COL.red]
].forEach(r => {
  const lp = r[0] === 0 ? 4 : 6;
  ptext(r[3], r[0] + lp, r[2], r[6], r[9] || TSIZE, 'left');
  if (r[4]) ptext(r[4], r[7] || (r[0] + r[1]) / 2, r[2] + (r[8] ? 2 : 0), r[6], r[8] || TSIZE, 'center');
  ptext(r[5], r[1] - 3, r[2], r[6], TSIZE, 'right');
});
// depth labels
depthLabels.forEach(d => annotations.push({xref:'paper', yref:'y', x:X(580), y:d, yshift:-17,
  xanchor:'center', yanchor:'middle', text:String(d), showarrow:false, font:{family:FONT, size:TSIZE, color:'#000'}}));

// ---------- curve flags (hollow arrow + mnemonic) ----------
const flags = [
  {t:'TAB_ARC_RES', xa:'x3', v:0.04, d:1819.44, c:COL.red},
  {t:'DCAV', xa:'x4', v:9.9, d:1819.51, c:COL.blue},
  {t:'GRMA_FILT', xa:'x', v:5.9, d:1821.22, c:COL.green},
  {t:'ROP5_RM', xa:'x2', v:99.7, d:1822.92, c:COL.black},
  {t:'CRPM', xa:'x5', v:4, d:1819.59, c:COL.black},
  {t:'P16B', xa:'x6', v:0.335, d:1819.51, c:COL.blue, log:true},
  {t:'P22B', xa:'x6', v:0.335, d:1821.22, c:COL.brown, log:true},
  {t:'P28B', xa:'x6', v:0.335, d:1822.92, c:COL.magenta, log:true},
  {t:'P34B', xa:'x6', v:0.335, d:1824.62, c:COL.red, log:true},
  {t:'P40B', xa:'x6', v:0.335, d:1826.24, c:COL.black, log:true},
  {t:'A40B', xa:'x6', v:0.34, d:1827.95, c:COL.black, log:true},
  {t:'A34B', xa:'x6', v:0.34, d:1829.6, c:COL.red, log:true},
  {t:'A28B', xa:'x6', v:0.335, d:1831.29, c:COL.magenta, log:true},
  {t:'A22B', xa:'x6', v:0.335, d:1832.97, c:COL.brown, log:true},
  {t:'A16B', xa:'x6', v:0.335, d:1834.65, c:COL.blue, log:true},
  {t:'IDRO', xa:'x10', v:1.01, d:1819.54, c:COL.red},
  {t:'IDPE', xa:'x11', v:1.45, d:1819.54, c:COL.red},
  {t:'TNPH', xa:'x8', v:99.4, d:1822.92, c:COL.blue},
  {t:'IDDR', xa:'x9', v:-0.046, d:1821.19, c:COL.black, mirror:true}
];
const arrowPts = [[0,0],[23,5.4],[14,9.8],[23.7,20],[47,20],[47,27.7],[21,27.7],[8.8,14.3],[4.8,21.4]];
flags.forEach(f => {
  const s = f.mirror ? -1 : 1;
  const path = arrowPts.map((p, i) => (i ? 'L' : 'M') + (s * p[0]).toFixed(1) + ',' + (-p[1]).toFixed(1)).join(' ') + ' Z';
  shapes.push({type:'path', xref:f.xa, yref:'y', xsizemode:'pixel', ysizemode:'pixel',
               xanchor:f.v, yanchor:f.d, path:path, line:{color:f.c, width:1.3},
               fillcolor:'rgba(0,0,0,0)', layer:'above'});
  annotations.push({xref:f.xa, yref:'y', x:f.log ? Math.log10(f.v) : f.v, y:f.d,
                    xanchor:f.mirror ? 'right' : 'left', yanchor:'middle',
                    xshift:f.mirror ? -58 : 56, yshift:-38, text:f.t, showarrow:false,
                    font:{family:FONT, size:19.5, color:f.c}});
});

layout.shapes = shapes;
layout.annotations = annotations;

Plotly.newPlot('log', traces, layout, {staticPlot:true, displayModeBar:false});
</script>
</body>
</html>
